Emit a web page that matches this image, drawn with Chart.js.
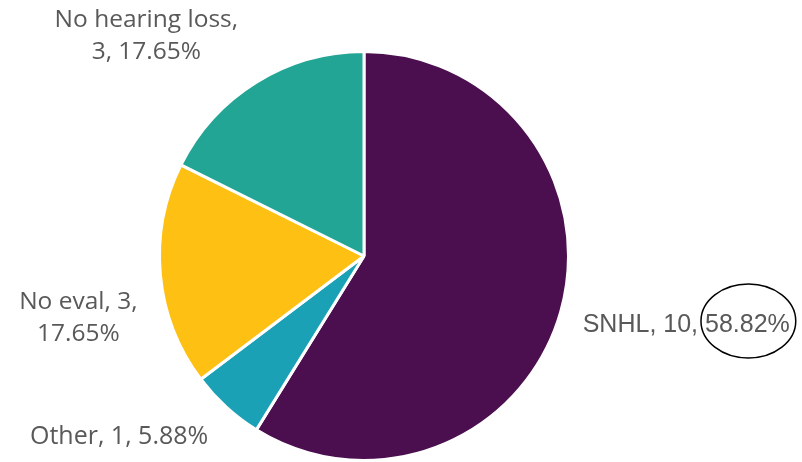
<!DOCTYPE html>
<html>
<head>
<meta charset="utf-8">
<script src="https://cdn.jsdelivr.net/npm/chart.js@4.4.1/dist/chart.umd.min.js"></script>
<style>
  html, body { margin: 0; padding: 0; background: #ffffff; }
  #wrap { width: 802px; height: 462px; position: relative; }
</style>
</head>
<body>
<div id="wrap"><canvas id="chart" width="802" height="462"></canvas></div>
<script>
// Hearing outcome categories and patient counts
const categories = ['SNHL', 'Other', 'No eval', 'No hearing loss'];
const counts = [10, 1, 3, 3];
const sliceColors = ['#4B0F4F', '#1BA1B6', '#FEC013', '#22A595'];

// Label placement relative to the outer midpoint of each slice
const labelPlacement = [
  { dx: 22,   dy: 20,  align: 'left',   breakAfter: null, font: '25px "Liberation Sans", Arial, sans-serif', ring: true },
  { dx: -18,  dy: 37,  align: 'right',  breakAfter: null, font: '25px "Open Sans", sans-serif' },
  { dx: -82,  dy: 34,  align: 'center', breakAfter: 1,    font: '24.5px "Open Sans", sans-serif' },
  { dx: -110, dy: -55, align: 'center', breakAfter: 0,    font: '24.5px "Open Sans", sans-serif' }
];
const lineHeight = 32;

const total = counts.reduce((a, b) => a + b, 0);

const pieLabels = {
  id: 'pieLabels',
  afterDatasetsDraw(chart) {
    const ctx = chart.ctx;
    const meta = chart.getDatasetMeta(0);
    meta.data.forEach((arc, i) => {
      const p = arc.getProps(['x', 'y', 'startAngle', 'endAngle', 'outerRadius'], true);
      const mid = (p.startAngle + p.endAngle) / 2;
      const ax = p.x + Math.cos(mid) * p.outerRadius;
      const ay = p.y + Math.sin(mid) * p.outerRadius;
      const cfg = labelPlacement[i];
      const pct = (counts[i] / total * 100).toFixed(2) + '%';
      const parts = [categories[i], String(counts[i]), pct];
      let lines;
      if (cfg.breakAfter === null) {
        lines = [parts.join(', ')];
      } else {
        const head = parts.slice(0, cfg.breakAfter + 1).join(', ') + ',';
        const tail = parts.slice(cfg.breakAfter + 1).join(', ');
        lines = [head, tail];
      }
      ctx.save();
      ctx.font = cfg.font;
      ctx.fillStyle = '#595959';
      ctx.textAlign = cfg.align;
      ctx.textBaseline = 'alphabetic';
      const x = ax + cfg.dx;
      let y = ay + cfg.dy;
      lines.forEach((ln) => {
        ctx.fillText(ln, x, y);
        y += lineHeight;
      });
      if (cfg.ring) {
        // highlight ring around the percentage
        const full = lines[0];
        const wFull = ctx.measureText(full).width;
        const wPct = ctx.measureText(pct).width;
        const left = cfg.align === 'left' ? x : x - wFull;
        const pctCx = left + wFull - wPct / 2;
        const cy = ay + cfg.dy - 11;
        ctx.beginPath();
        ctx.ellipse(pctCx + 1, cy, wPct / 2 + 5, 37, 0, 0, Math.PI * 2);
        ctx.strokeStyle = '#000000';
        ctx.lineWidth = 1.5;
        ctx.stroke();
      }
      ctx.restore();
    });
  }
};

new Chart(document.getElementById('chart'), {
  type: 'pie',
  data: {
    labels: categories,
    datasets: [{
      data: counts,
      backgroundColor: sliceColors,
      borderColor: '#ffffff',
      borderWidth: 3
    }]
  },
  options: {
    responsive: false,
    animation: false,
    layout: { padding: { left: 157, right: 231, top: 50, bottom: 0 } },
    plugins: {
      legend: { display: false },
      tooltip: { enabled: false }
    }
  },
  plugins: [pieLabels]
});
</script>
</body>
</html>
